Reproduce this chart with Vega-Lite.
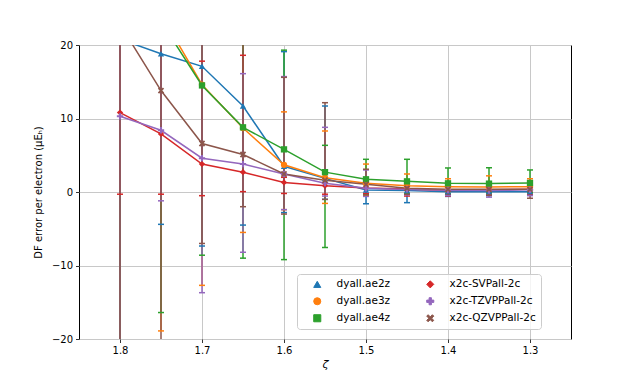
{
  "$schema": "https://vega.github.io/schema/vega-lite/v6.json",
  "autosize": "none",
  "width": 492,
  "height": 294,
  "padding": {"left": 79, "top": 45, "right": 63, "bottom": 42},
  "background": "white",
  "config": {
    "font": "DejaVu Sans",
    "view": {"stroke": "#000000", "strokeWidth": 1},
    "axis": {
      "domain": false,
      "tickColor": "#000000",
      "tickSize": 3.5,
      "tickWidth": 0.8,
      "labelColor": "#000000",
      "labelFontSize": 10,
      "labelPadding": 3,
      "titleColor": "#000000",
      "titleFontSize": 10,
      "titleFontWeight": "normal",
      "gridColor": "#c8c8c8",
      "gridWidth": 1
    },
    "legend": {
      "labelFontSize": 10.5,
      "labelColor": "#000000"
    }
  },
  "data": {
    "values": [
      {"series": "dyall.ae2z", "z": 1.8, "v": 20.8, "lo": -25, "hi": 60},
      {"series": "dyall.ae2z", "z": 1.75, "v": 18.8, "lo": -4.4, "hi": 40},
      {"series": "dyall.ae2z", "z": 1.7, "v": 17.1, "lo": -7.35, "hi": 40},
      {"series": "dyall.ae2z", "z": 1.65, "v": 11.7, "lo": -4.5, "hi": 25},
      {"series": "dyall.ae2z", "z": 1.6, "v": 3.5, "lo": -2.8, "hi": 19.1},
      {"series": "dyall.ae2z", "z": 1.55, "v": 1.85, "lo": -1.0, "hi": 11.7},
      {"series": "dyall.ae2z", "z": 1.5, "v": 0.27, "lo": -1.6, "hi": 1.5},
      {"series": "dyall.ae2z", "z": 1.45, "v": 0.2, "lo": -1.45, "hi": 1.2},
      {"series": "dyall.ae2z", "z": 1.4, "v": 0.05, "lo": -0.6, "hi": 0.8},
      {"series": "dyall.ae2z", "z": 1.35, "v": 0.05, "lo": -0.5, "hi": 0.7},
      {"series": "dyall.ae2z", "z": 1.3, "v": 0.05, "lo": -0.4, "hi": 0.7},

      {"series": "dyall.ae3z", "z": 1.8, "v": 30, "lo": -25, "hi": 60},
      {"series": "dyall.ae3z", "z": 1.75, "v": 24.2, "lo": -18.9, "hi": 60},
      {"series": "dyall.ae3z", "z": 1.7, "v": 14.6, "lo": -12.7, "hi": 40},
      {"series": "dyall.ae3z", "z": 1.65, "v": 8.7, "lo": -5.5, "hi": 25},
      {"series": "dyall.ae3z", "z": 1.6, "v": 3.7, "lo": -2.4, "hi": 10.9},
      {"series": "dyall.ae3z", "z": 1.55, "v": 1.95, "lo": -1.55, "hi": 8.3},
      {"series": "dyall.ae3z", "z": 1.5, "v": 1.2, "lo": -0.5, "hi": 3.8},
      {"series": "dyall.ae3z", "z": 1.45, "v": 0.86, "lo": -0.3, "hi": 2.45},
      {"series": "dyall.ae3z", "z": 1.4, "v": 0.73, "lo": -0.2, "hi": 1.8},
      {"series": "dyall.ae3z", "z": 1.35, "v": 0.68, "lo": -0.2, "hi": 2.2},
      {"series": "dyall.ae3z", "z": 1.3, "v": 0.73, "lo": -0.2, "hi": 1.8},

      {"series": "dyall.ae4z", "z": 1.8, "v": 26, "lo": -25, "hi": 60},
      {"series": "dyall.ae4z", "z": 1.75, "v": 23.2, "lo": -16.4, "hi": 60},
      {"series": "dyall.ae4z", "z": 1.7, "v": 14.5, "lo": -8.6, "hi": 40},
      {"series": "dyall.ae4z", "z": 1.65, "v": 8.8, "lo": -9.0, "hi": 24},
      {"series": "dyall.ae4z", "z": 1.6, "v": 5.8, "lo": -9.2, "hi": 19.3},
      {"series": "dyall.ae4z", "z": 1.55, "v": 2.7, "lo": -7.55, "hi": 6.35},
      {"series": "dyall.ae4z", "z": 1.5, "v": 1.73, "lo": -0.3, "hi": 4.45},
      {"series": "dyall.ae4z", "z": 1.45, "v": 1.45, "lo": -0.2, "hi": 4.45},
      {"series": "dyall.ae4z", "z": 1.4, "v": 1.18, "lo": -0.2, "hi": 3.27},
      {"series": "dyall.ae4z", "z": 1.35, "v": 1.14, "lo": -0.1, "hi": 3.3},
      {"series": "dyall.ae4z", "z": 1.3, "v": 1.23, "lo": -0.1, "hi": 3.0},

      {"series": "x2c-SVPall-2c", "z": 1.8, "v": 10.8, "lo": -0.3, "hi": 22},
      {"series": "x2c-SVPall-2c", "z": 1.75, "v": 7.9, "lo": -0.3, "hi": 21},
      {"series": "x2c-SVPall-2c", "z": 1.7, "v": 3.8, "lo": -0.5, "hi": 17.8},
      {"series": "x2c-SVPall-2c", "z": 1.65, "v": 2.7, "lo": 0.05, "hi": 18.6},
      {"series": "x2c-SVPall-2c", "z": 1.6, "v": 1.3, "lo": -0.2, "hi": 2.0},
      {"series": "x2c-SVPall-2c", "z": 1.55, "v": 0.86, "lo": -0.3, "hi": 1.8},
      {"series": "x2c-SVPall-2c", "z": 1.5, "v": 0.55, "lo": -0.2, "hi": 1.2},
      {"series": "x2c-SVPall-2c", "z": 1.45, "v": 0.4, "lo": -0.55, "hi": 1.0},
      {"series": "x2c-SVPall-2c", "z": 1.4, "v": 0.2, "lo": -0.55, "hi": 0.9},
      {"series": "x2c-SVPall-2c", "z": 1.35, "v": 0.3, "lo": -0.4, "hi": 1.0},
      {"series": "x2c-SVPall-2c", "z": 1.3, "v": 0.36, "lo": -0.4, "hi": 1.0},

      {"series": "x2c-TZVPPall-2c", "z": 1.8, "v": 10.3, "lo": -21, "hi": 40},
      {"series": "x2c-TZVPPall-2c", "z": 1.75, "v": 8.4, "lo": -1.2, "hi": 22},
      {"series": "x2c-TZVPPall-2c", "z": 1.7, "v": 4.6, "lo": -13.7, "hi": 25},
      {"series": "x2c-TZVPPall-2c", "z": 1.65, "v": 3.8, "lo": -8.2, "hi": 16.1},
      {"series": "x2c-TZVPPall-2c", "z": 1.6, "v": 2.45, "lo": -2.4, "hi": 15.7},
      {"series": "x2c-TZVPPall-2c", "z": 1.55, "v": 1.2, "lo": -0.55, "hi": 8.8},
      {"series": "x2c-TZVPPall-2c", "z": 1.5, "v": 0.5, "lo": -0.6, "hi": 3.0},
      {"series": "x2c-TZVPPall-2c", "z": 1.45, "v": 0.35, "lo": -0.4, "hi": 1.2},
      {"series": "x2c-TZVPPall-2c", "z": 1.4, "v": 0.25, "lo": -0.5, "hi": 1.0},
      {"series": "x2c-TZVPPall-2c", "z": 1.35, "v": 0.2, "lo": -0.7, "hi": 1.0},
      {"series": "x2c-TZVPPall-2c", "z": 1.3, "v": 0.3, "lo": -0.5, "hi": 1.0},

      {"series": "x2c-QZVPPall-2c", "z": 1.8, "v": 22.8, "lo": -30, "hi": 70},
      {"series": "x2c-QZVPPall-2c", "z": 1.75, "v": 13.8, "lo": -25, "hi": 50},
      {"series": "x2c-QZVPPall-2c", "z": 1.7, "v": 6.6, "lo": -7.0, "hi": 30},
      {"series": "x2c-QZVPPall-2c", "z": 1.65, "v": 5.1, "lo": -2.0, "hi": 22},
      {"series": "x2c-QZVPPall-2c", "z": 1.6, "v": 2.45, "lo": -3.0, "hi": 15.6},
      {"series": "x2c-QZVPPall-2c", "z": 1.55, "v": 1.6, "lo": -1.0, "hi": 12.15},
      {"series": "x2c-QZVPPall-2c", "z": 1.5, "v": 1.05, "lo": -0.4, "hi": 3.1},
      {"series": "x2c-QZVPPall-2c", "z": 1.45, "v": 0.5, "lo": -0.3, "hi": 1.5},
      {"series": "x2c-QZVPPall-2c", "z": 1.4, "v": 0.36, "lo": -0.3, "hi": 1.2},
      {"series": "x2c-QZVPPall-2c", "z": 1.35, "v": 0.36, "lo": -0.4, "hi": 1.2},
      {"series": "x2c-QZVPPall-2c", "z": 1.3, "v": 0.36, "lo": -0.85, "hi": 1.3}
    ]
  },
  "encoding": {
    "x": {
      "field": "z",
      "type": "quantitative",
      "scale": {"domain": [1.25, 1.85], "reverse": true, "nice": false, "zero": false},
      "axis": {"values": [1.3, 1.4, 1.5, 1.6, 1.7, 1.8], "format": ".1f", "title": "ζ", "titleFontStyle": "italic", "titleFontSize": 11, "titlePadding": 3}
    },
    "color": {
      "field": "series",
      "type": "nominal",
      "scale": {
        "domain": ["dyall.ae2z", "dyall.ae3z", "dyall.ae4z", "x2c-SVPall-2c", "x2c-TZVPPall-2c", "x2c-QZVPPall-2c"],
        "range": ["#1f77b4", "#ff7f0e", "#2ca02c", "#d62728", "#9467bd", "#8c564b"]
      },
      "legend": {
        "title": null,
        "orient": "none",
        "legendX": 218,
        "legendY": 229,
        "columns": 2,
        "padding": 5,
        "rowPadding": 5,
        "columnPadding": 24,
        "symbolOffset": 10,
        "labelOffset": 14,
        "symbolSize": 50,
        "symbolStrokeWidth": 1,
        "strokeColor": "#cccccc",
        "fillColor": "rgba(255,255,255,0.8)",
        "cornerRadius": 3
      }
    }
  },
  "layer": [
    {
      "mark": {"type": "rule", "strokeWidth": 1.5, "clip": true},
      "encoding": {
        "y": {"field": "lo", "type": "quantitative", "scale": {"domain": [-20, 20], "nice": false}},
        "y2": {"field": "hi"}
      }
    },
    {
      "mark": {"type": "point", "shape": "stroke", "size": 36, "strokeWidth": 1.5, "filled": false, "opacity": 1, "clip": true},
      "encoding": {"y": {"field": "lo", "type": "quantitative"}}
    },
    {
      "mark": {"type": "point", "shape": "stroke", "size": 36, "strokeWidth": 1.5, "filled": false, "opacity": 1, "clip": true},
      "encoding": {"y": {"field": "hi", "type": "quantitative"}}
    },
    {
      "mark": {"type": "line", "strokeWidth": 1.5, "clip": true},
      "encoding": {"y": {"field": "v", "type": "quantitative"}}
    },
    {
      "mark": {"type": "point", "filled": true, "size": 40, "opacity": 1, "clip": true},
      "encoding": {
        "y": {
          "field": "v",
          "type": "quantitative",
          "axis": {
            "values": [-20, -15, -10, -5, 0, 5, 10, 15, 20],
            "labelExpr": "replace(datum.label, '-', '−')",
            "title": "DF error per electron (μEₕ)",
            "titlePadding": 8
          }
        },
        "shape": {
          "field": "series",
          "type": "nominal",
          "scale": {
            "domain": ["dyall.ae2z", "dyall.ae3z", "dyall.ae4z", "x2c-SVPall-2c", "x2c-TZVPPall-2c", "x2c-QZVPPall-2c"],
            "range": ["triangle-up", "circle", "square", "diamond", "M-0.33,-1H0.33V-0.33H1V0.33H0.33V1H-0.33V0.33H-1V-0.33H-0.33Z", "M-1,-0.6L-0.6,-1L0,-0.4L0.6,-1L1,-0.6L0.4,0L1,0.6L0.6,1L0,0.4L-0.6,1L-1,0.6L-0.4,0Z"]
          },
          "legend": {
            "title": null,
            "orient": "none",
            "legendX": 218,
            "legendY": 229,
            "columns": 2,
            "padding": 5,
            "rowPadding": 5,
            "columnPadding": 24,
            "symbolOffset": 10,
            "labelOffset": 14,
            "symbolSize": 50,
            "symbolStrokeWidth": 1,
            "strokeColor": "#cccccc",
            "fillColor": "rgba(255,255,255,0.8)",
            "cornerRadius": 3
          }
        }
      }
    }
  ]
}
